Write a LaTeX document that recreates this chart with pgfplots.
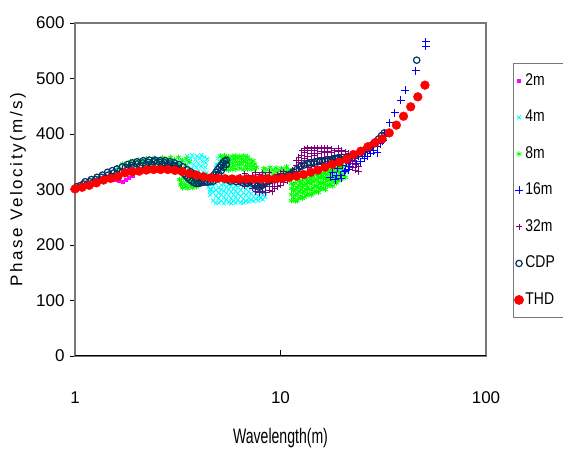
\documentclass[border=0pt]{standalone}
\usepackage{pgfplots}
\pgfplotsset{compat=1.18}
\usepackage{fontspec}
\setmainfont{Liberation Sans}
\newfontfamily\narrowfont{Liberation Sans}[FakeStretch=0.67]
\newfontfamily\legfont{Liberation Sans}[FakeStretch=0.82]
\newfontfamily\ylabfont{Liberation Sans}[LetterSpace=15]
\definecolor{cMag}{RGB}{255,0,255}
\definecolor{cCyan}{RGB}{0,255,255}
\definecolor{cGreen}{RGB}{0,255,0}
\definecolor{cBlue}{RGB}{0,0,255}
\definecolor{cPurple}{RGB}{128,0,128}
\definecolor{cNavy}{RGB}{0,51,102}
\definecolor{cRed}{RGB}{255,0,0}
\definecolor{frame}{RGB}{120,120,120}
\begin{document}
\begin{tikzpicture}
\path[use as bounding box] (0,0) rectangle (563pt,453pt);
\begin{axis}[
  at={(75pt,97pt)}, anchor=south west,
  scale only axis, width=411pt, height=333pt,
  xmode=log, xmin=1, xmax=100, ymin=0, ymax=600,
  xtick={1,10,100}, xticklabels={1,10,100}, xminorticks=false,
  ytick={0,100,200,300,400,500,600},
  tick align=outside, xtick pos=bottom, ytick pos=left,
  major tick length=5pt,
  x tick style={yshift=6pt, black, line width=0.6pt},
  y tick style={black, line width=0.8pt},
  axis line style={frame, line width=1.3pt},
  /pgf/number format/assume math mode=true,
  tick label style={font=\fontsize{17}{20}\selectfont},
  xticklabel style={yshift=-27pt},
  yticklabel style={xshift=-2pt},
  xlabel={Wavelength(m)},
  xlabel style={at={(axis description cs:0.5,-0.246)}, anchor=center, font=\fontsize{21}{24}\narrowfont},
  ylabel={Phase Velocity(m/s)},
  ylabel style={at={(axis description cs:-0.139,0.5)}, anchor=center, rotate=0, font=\fontsize{17}{20}\ylabfont},
  legend style={at={(axis description cs:1.066,0.88)}, anchor=north west,
    draw=frame, line width=1pt, font=\fontsize{17}{20}\legfont,
    inner xsep=1pt, inner ysep=8pt, row sep=17.5pt,
    nodes={inner sep=2pt, text height=12pt, text depth=3pt}},
  legend cell align=left,
]
% 2m
\addplot[only marks, mark=square*, mark size=1.5pt, color=cMag] coordinates {
(1.0,303)(1.08,306)(1.16,309)(1.24,312)(1.32,315)(1.4,316)(1.48,318)(1.56,318)(1.64,316)(1.7,314)(1.76,318)(1.82,321)(1.9,325)};
% 4m
\addplot[only marks, mark=x, mark size=2.8pt, line width=0.8pt, color=cCyan] coordinates {
(2.1,348)(2.2,353)(2.35,350)(2.5,355)(2.65,352)(2.8,354)(2.95,350)(3.1,347)(3.25,352)
(3.45,352)(3.5,340)(3.52,360)(3.58,333)(3.6,348)(3.65,356)(3.7,338)(3.72,362)(3.78,345)(3.8,331)(3.85,354)(3.9,340)(3.92,360)(3.98,347)(4.0,334)(4.05,356)(4.1,342)(4.12,362)(4.18,350)(4.2,332)(4.25,358)(4.3,340)(4.33,348)(4.38,330)(4.4,355)
(4.42,318)(4.46,305)(4.5,325)(4.53,296)(4.56,312)(4.6,300)
(4.85,345)(4.95,356)(5.05,340)(5.15,361)(5.25,350)(5.35,343)(5.45,358)(5.55,347)(5.7,355)
(4.55,300)(4.55,310)(4.55,290)(4.7,280)(4.7,295)(4.7,306)(4.85,288)(4.85,299)(4.85,311)(4.85,276)
(5.0,284)(5.0,303)(5.0,294)(5.0,276)(5.15,291)(5.15,279)(5.15,308)(5.15,300)(5.3,275)(5.3,286)(5.3,297)(5.3,310)
(5.45,282)(5.45,293)(5.45,304)(5.45,313)(5.6,277)(5.6,289)(5.6,300)(5.6,309)(5.75,284)(5.75,296)(5.75,306)(5.75,275)
(5.9,279)(5.9,291)(5.9,302)(5.9,311)(6.05,286)(6.05,297)(6.05,276)(6.05,307)(6.2,281)(6.2,293)(6.2,304)(6.2,312)
(6.4,277)(6.4,288)(6.4,299)(6.4,308)(6.6,283)(6.6,294)(6.6,305)(6.6,276)(6.8,279)(6.8,290)(6.8,301)(6.8,310)
(7.0,285)(7.0,296)(7.0,306)(7.0,278)(7.2,281)(7.2,292)(7.2,303)(7.4,287)(7.4,297)(7.4,279)(7.6,283)(7.6,293)(7.6,303)
(7.8,288)(7.8,280)(7.8,298)(8.0,285)(8.0,294)(8.2,290)(8.2,282)(8.4,287)(8.4,296)};
% 8m
\addplot[only marks, mark=asterisk, mark size=2.8pt, line width=0.8pt, color=cGreen] coordinates {
(1.62,340)(1.7,346)(1.78,344)(1.86,350)(1.95,348)(2.04,353)(2.13,351)(2.23,355)(2.33,350)(2.44,356)(2.55,352)(2.67,357)(2.79,353)(2.92,358)(3.05,354)(3.19,358)(3.33,352)(3.48,356)(3.6,350)
(2.0,343)(2.3,345)(2.6,346)(2.9,345)(3.2,346)(3.45,344)
(3.22,318)(3.26,308)(3.3,313)(3.34,303)(3.38,320)(3.42,310)(3.46,305)(3.5,316)(3.54,302)(3.58,311)(3.62,320)(3.66,306)(3.7,314)(3.74,303)(3.78,318)(3.82,309)(3.86,313)(3.9,305)(3.95,317)(4.0,310)(4.05,314)(4.1,318)
(5.1,338)(5.1,350)(5.1,360)(5.22,344)(5.22,356)(5.34,336)(5.34,349)(5.34,361)(5.46,342)(5.46,354)(5.58,335)(5.58,347)(5.58,359)
(5.7,341)(5.7,353)(5.82,336)(5.82,348)(5.82,360)(5.94,343)(5.94,355)(6.06,337)(6.06,350)(6.06,361)(6.2,344)(6.2,356)
(6.34,338)(6.34,349)(6.34,360)(6.48,345)(6.48,355)(6.62,336)(6.62,350)(6.62,361)(6.76,342)(6.76,354)(6.9,337)(6.9,348)(6.9,359)
(7.05,343)(7.05,354)(7.2,336)(7.2,348)(7.35,342)(7.35,352)(7.5,337)(7.5,346)(7.65,340)
(8.3,330)(8.3,338)(8.6,326)(8.6,336)(8.9,332)(8.9,340)(9.2,327)(9.2,335)(9.5,331)(9.5,339)(9.8,325)(9.8,334)
(10.1,330)(10.1,338)(10.4,326)(10.4,336)(10.7,332)(10.7,341)(11.0,328)(11.0,336)(11.3,324)(11.3,333)
(11.3,280)(11.3,291)(11.3,302)(11.3,311)(11.8,279)(11.8,290)(11.8,300)(11.8,312)(12.3,285)(12.3,296)(12.3,307)(12.3,315)
(12.8,284)(12.8,294)(12.8,304)(12.8,316)(13.3,289)(13.3,300)(13.3,310)(13.3,319)(13.8,291)(13.8,301)(13.8,312)(13.8,321)
(14.4,293)(14.4,303)(14.4,314)(14.4,323)(15.0,297)(15.0,307)(15.0,318)(15.0,326)(15.6,300)(15.6,310)(15.6,320)(15.6,328)
(16.2,303)(16.2,313)(16.2,322)(16.2,330)(16.9,306)(16.9,315)(16.9,325)(16.9,333)(17.6,309)(17.6,318)(17.6,328)(17.6,335)
(18.3,313)(18.3,322)(18.3,331)(18.3,338)(19.1,316)(19.1,325)(19.1,334)(19.1,341)(19.9,319)(19.9,328)(19.9,337)(19.9,344)
(20.7,322)(20.7,332)(20.7,342)
(11.55,285)(11.55,298)(11.55,308)(12.05,280)(12.05,292)(12.05,304)(12.55,288)(12.55,300)(12.55,311)(13.05,286)(13.05,297)(13.05,309)
(13.55,292)(13.55,304)(13.55,315)(14.1,290)(14.1,299)(14.1,310)(14.1,318)(14.7,296)(14.7,306)(14.7,316)(15.3,295)(15.3,303)(15.3,313)(15.3,323)
(15.9,302)(15.9,312)(15.9,324)(16.55,300)(16.55,309)(16.55,319)(16.55,328)(17.25,308)(17.25,318)(17.25,330)(17.95,306)(17.95,315)(17.95,325)(17.95,334)
(18.7,312)(18.7,321)(18.7,332)(19.5,318)(19.5,330)(19.5,340)};
% 16m
\addplot[only marks, mark=+, mark size=4pt, line width=1pt, color=cBlue] coordinates {
(17.5,322)(18.0,330)(18.5,318)(18.8,325)(19.0,338)(19.5,326)(19.8,320)(20.0,344)(20.5,332)(20.8,335)(21.0,348)(21.5,336)(21.7,342)(22.0,352)(22.5,340)(23.0,356)(23.5,346)(24.0,360)(24.5,350)(25.0,364)(25.5,356)(26.0,368)(26.5,360)(27.0,372)(27.5,365)(28.0,378)(28.5,370)(29.0,384)(29.5,366)(29.6,377)(30.0,390)(30.5,382)(31.0,396)(31.5,388)(32.0,402)(32.5,395)(34.0,420)(36.0,438)(38.5,461)(40.5,479)(45.5,514)(51.0,558)(51.0,566)};
% 32m
\addplot[only marks, mark=+, mark size=3pt, line width=1pt, color=cPurple] coordinates {
(6.4,312)(6.4,322)(6.7,306)(6.7,318)(6.7,328)(7.0,310)(7.0,322)(7.3,302)(7.3,315)(7.3,326)
(7.6,296)(7.6,308)(7.6,320)(7.6,330)(7.9,294)(7.9,304)(7.9,316)(7.9,327)(8.2,297)(8.2,308)(8.2,319)(8.2,330)
(8.5,294)(8.5,305)(8.5,314)(8.5,326)(8.8,299)(8.8,310)(8.8,321)(8.8,331)(9.1,296)(9.1,306)(9.1,317)
(9.4,301)(9.4,312)(9.4,323)(9.7,305)(9.7,316)(9.7,327)(10.0,308)(10.0,319)(10.0,329)(10.4,312)(10.4,322)(10.4,332)
(10.8,316)(10.8,326)(11.2,320)(11.2,330)
(11.5,328)(11.5,336)(11.9,333)(11.9,343)(11.9,352)(12.3,338)(12.3,348)(12.3,358)(12.7,342)(12.7,352)(12.7,362)(12.7,370)
(13.1,346)(13.1,356)(13.1,366)(13.1,373)(13.6,340)(13.6,350)(13.6,360)(13.6,370)(13.6,375)(14.1,344)(14.1,354)(14.1,364)(14.1,373)
(14.6,341)(14.6,351)(14.6,361)(14.6,371)(14.6,375)(15.2,345)(15.2,355)(15.2,365)(15.2,374)(15.8,348)(15.8,358)(15.8,368)(15.8,375)
(16.4,346)(16.4,356)(16.4,366)(16.4,374)(17.0,350)(17.0,360)(17.0,369)(17.0,375)(17.7,348)(17.7,357)(17.7,366)(17.7,373)
(18.4,352)(18.4,361)(18.4,370)(19.1,350)(19.1,359)(19.1,368)(19.1,374)(19.9,355)(19.9,363)(19.9,371)(20.7,352)(20.7,360)(20.7,368)
(21.5,346)(21.5,356)(21.5,365)(22.3,340)(22.3,350)(22.3,360)(23.1,335)(23.1,345)(23.1,355)(24.0,332)(24.0,342)};
% CDP
\addplot[only marks, mark=o, mark size=3.2pt, line width=1.2pt, color=cNavy] coordinates {
(1.02,305)(1.06,307)(1.1,310)(1.14,308)(1.18,314)(1.22,312)(1.26,318)(1.3,316)(1.35,322)(1.4,320)(1.45,326)(1.5,324)(1.55,330)(1.6,328)(1.65,333)(1.7,331)(1.76,340)(1.82,338)(1.88,343)(1.94,341)(2.0,346)(2.07,343)(2.14,348)(2.21,345)(2.28,349)(2.35,346)(2.42,350)(2.5,347)(2.58,349)(2.66,346)(2.74,348)(2.82,344)(2.9,346)(2.98,342)(3.06,343)(3.14,338)(3.22,336)(3.3,332)(3.38,329)(3.46,325)(3.54,321)(3.62,318)(3.7,315)(3.8,312)(3.9,311)(4.0,311)(4.1,312)(4.2,313)(4.3,314)(4.4,313)
(1.12,314)(1.2,318)(1.28,322)(1.36,326)(1.44,331)(1.52,334)(1.6,337)(1.7,341)(1.8,345)(1.9,348)(2.0,350)(2.15,352)(2.3,353)(2.45,353)(2.6,352)(2.75,352)(2.9,350)(3.05,348)(3.2,345)(3.35,341)(3.5,336)(3.65,332)(3.8,328)(3.95,325)(4.1,322)
(4.55,314)(4.65,320)(4.75,326)(4.85,331)(4.95,336)(5.05,340)(5.15,344)(5.25,348)(5.35,351)(5.45,353)
(4.7,315)(4.85,322)(5.0,328)(5.15,334)(5.3,340)(5.45,345)
(5.5,318)(5.7,315)(5.9,317)(6.1,314)(6.3,316)(6.5,313)(6.7,315)(6.9,312)(7.1,314)(7.3,311)(7.5,309)(7.7,306)(7.9,304)(8.1,307)(8.3,310)(8.5,313)(8.8,315)(9.1,317)(9.4,318)(9.7,319)(10.0,320)(10.4,322)(10.8,325)(11.2,328)(11.6,332)(12.0,336)(12.5,341)(13.0,344)(13.5,347)(14.0,348)(14.5,349)(15.0,350)(15.5,351)(16.0,350)(16.5,352)(17.0,351)(17.5,353)(18.0,354)(18.5,356)(19.0,357)(19.5,355)(20.0,358)(21.0,357)(22.0,360)(23.0,362)(24.0,364)(25.0,368)(26.0,372)(27.0,376)(28.0,381)(29.0,386)(30.0,391)(31.0,397)(32.0,402)(46.0,533)};
% THD
\addplot[only marks, mark=*, mark size=4.4pt, color=cRed, mark options={draw=cRed, fill=cRed}] coordinates {
(1.000,301)(1.0833,304)(1.1736,307.5)(1.2713,312)(1.3772,317)(1.4920,320)(1.6163,323)(1.7509,330)(1.8968,332)(2.0548,333)
(2.2260,335)(2.4114,336)(2.6123,336)(2.8299,336)(3.0657,334.5)(3.3211,332.5)(3.5977,329)(3.8974,326)(4.2221,323)(4.5738,321)
(4.9548,320)(5.3675,319.5)(5.8147,319)(6.2990,319)(6.8238,319)(7.3922,319)(8.0080,319)(8.6751,319)(9.3978,319)(10.187,320)
(11.035,322)(11.955,324)(12.950,327)(14.029,331)(15.198,335)(16.464,340)(17.835,345)(19.321,349)(20.930,355)(22.674,363)
(24.563,369)(26.609,377)(28.826,384)(31.227,391)(33.828,402)(36.646,416)(39.699,432)(43.006,449)(46.588,467)(50.469,488)};
\draw[black, line width=1.3pt] (rel axis cs:0,0) -- (rel axis cs:1,0);
\legend{2m,4m,8m,16m,32m,CDP,THD\hspace*{10pt}}
\end{axis}
\end{tikzpicture}
\end{document}
